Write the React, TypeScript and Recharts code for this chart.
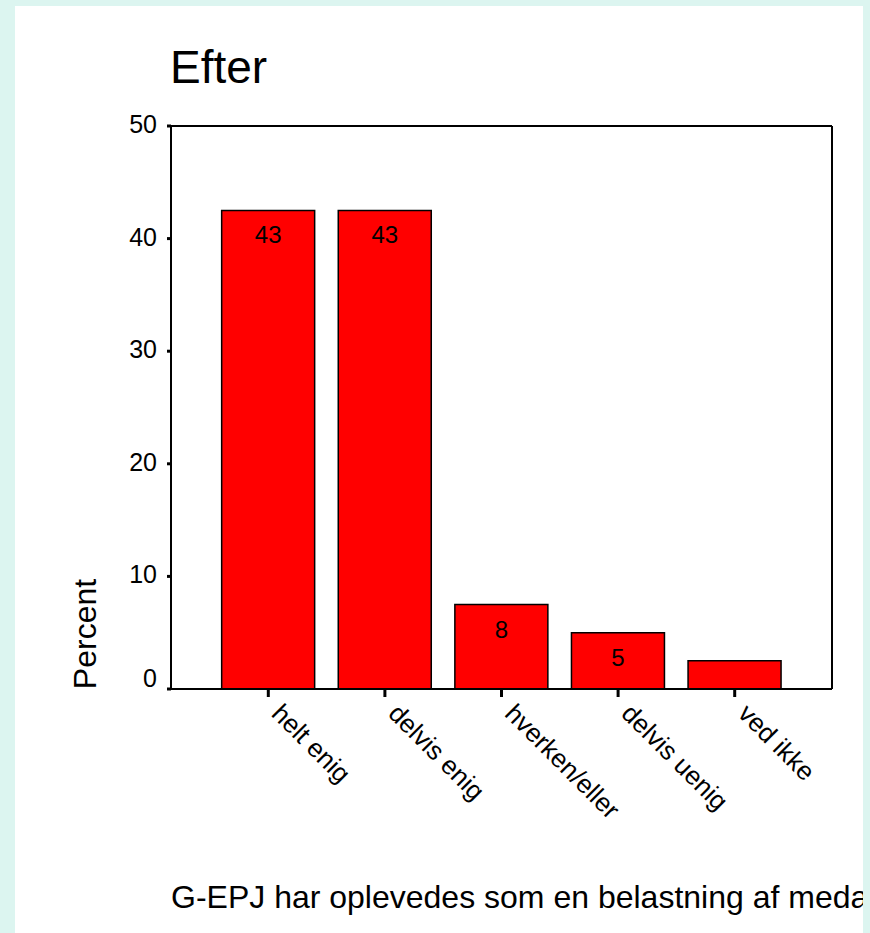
import { BarChart, Bar, XAxis, YAxis, LabelList } from 'recharts'

const categories = ['helt enig', 'delvis enig', 'hverken/eller', 'delvis uenig', 'ved ikke']
const percents = [42.5, 42.5, 7.5, 5, 2.5]
const barLabels = ['43', '43', '8', '5', '']
const yTicks = [0, 10, 20, 30, 40, 50]

const data = categories.map((name, i) => ({ name, percent: percents[i], label: barLabels[i] }))

const FONT = '"Liberation Sans", Arial, Helvetica, sans-serif'

function XTick({ x, y, payload }: any) {
  const tx = x + 2
  const ty = y + 18
  return (
    <text x={tx} y={ty} transform={`rotate(45 ${tx} ${ty})`} fontSize={26} fontFamily={FONT} fill="#000">
      {payload.value}
    </text>
  )
}

function YTick({ x, y, payload }: any) {
  // the 0 label sits a bit above its tick, as in the original
  const dy = payload.value === 0 ? -2.5 : 7
  return (
    <text x={x} y={y + dy} textAnchor="end" fontSize={25} fontFamily={FONT} fill="#000">
      {payload.value}
    </text>
  )
}

function BarValue(p: any) {
  if (!p.value) return null
  return (
    <text x={p.x + p.width / 2} y={p.y + 33} textAnchor="middle" fontSize={24} fontFamily={FONT} fill="#000">
      {p.value}
    </text>
  )
}

export default function App() {
  return (
    <div style={{ position: 'absolute', left: 0, top: 0, width: 870, height: 933, background: '#dcf5f0' }}>
      <div style={{ position: 'absolute', left: 15, top: 6, width: 848, height: 927, background: '#fff', overflow: 'hidden' }}>
        <BarChart
          width={848}
          height={927}
          data={data}
          margin={{ top: 120, right: 31, left: 96, bottom: 144 }}
          barCategoryGap="10%"
        >
          <XAxis
            dataKey="name"
            height={100}
            padding={{ left: 39, right: 39 }}
            interval={0}
            tickSize={8}
            tickMargin={0}
            axisLine={{ stroke: '#000', strokeWidth: 2 }}
            tickLine={{ stroke: '#000', strokeWidth: 3 }}
            tick={<XTick />}
          />
          <XAxis
            xAxisId="top"
            dataKey="name"
            orientation="top"
            height={1}
            mirror
            tick={false}
            tickLine={false}
            axisLine={{ stroke: '#000', strokeWidth: 2 }}
          />
          <YAxis
            width={60}
            domain={[0, 50]}
            ticks={yTicks}
            tickSize={4}
            tickMargin={10}
            axisLine={{ stroke: '#000', strokeWidth: 2 }}
            tickLine={{ stroke: '#000', strokeWidth: 3 }}
            tick={<YTick />}
          />
          <YAxis
            yAxisId="right"
            orientation="right"
            width={1}
            mirror
            domain={[0, 50]}
            tick={false}
            tickLine={false}
            axisLine={{ stroke: '#000', strokeWidth: 2 }}
          />
          <Bar dataKey="percent" fill="#ff0000" stroke="#000" strokeWidth={1.5} isAnimationActive={false}>
            <LabelList dataKey="label" content={<BarValue />} />
          </Bar>
        </BarChart>
        <svg width={848} height={927} style={{ position: 'absolute', left: 0, top: 0, pointerEvents: 'none' }}>
          <text x={155} y={77} fontSize={46} fontFamily={FONT} fill="#000">Efter</text>
          <text x={81} y={628} transform="rotate(-90 81 628)" textAnchor="middle" fontSize={32} fontFamily={FONT} fill="#000">
            Percent
          </text>
          <text x={156} y={902} fontSize={32} fontFamily={FONT} fill="#000">
            G-EPJ har oplevedes som en belastning af meda
          </text>
        </svg>
      </div>
    </div>
  )
}
